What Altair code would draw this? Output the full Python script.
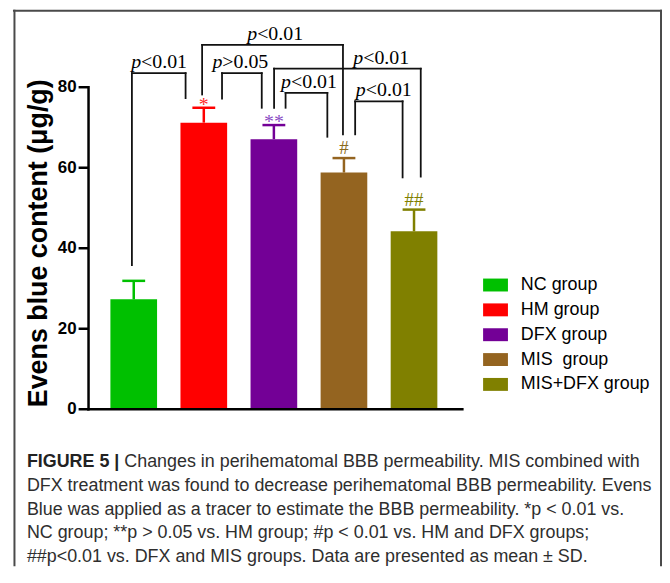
import altair as alt
import pandas as pd

# ---------------- data ----------------
groups = ["NC group", "HM group", "DFX group", "MIS\u00a0 group", "MIS+DFX group"]
means = [27.3, 71.2, 67.1, 58.8, 44.2]
sds = [4.6, 3.7, 3.5, 3.6, 5.4]
bar_colors = ["#00c000", "#ff0000", "#730096", "#946420", "#808000"]
sig_marks = ["", "*", "**", "#", "##"]
sig_colors = ["#00c000", "#ff2a2a", "#8a4cc4", "#8b6a1c", "#808000"]

y_ticks = [0, 20, 40, 60, 80]
y_title = "Evens blue content (\u03bcg/g)"

# significance brackets (group-index units / data units)
br_left = [-0.026, 0.976, 1.26, 2.003, 2.167, 3.16]
br_right = [0.74, 2.986, 1.827, 4.096, 2.763, 3.837]
br_top = [83.5, 90.5, 83.5, 84.6, 78.6, 76.5]
br_left_end = [35.8, 78.2, 77.2, 74.9, 74.9, 68.3]
br_right_end = [77.3, 68.3, 74.9, 57.8, 67.7, 57.6]
br_text = ["<0.01", "<0.01", ">0.05", "<0.01", "<0.01", "<0.01"]
br_text_x = [0.36, 2.017, 1.52, 3.53, 2.5, 3.567]

caption_bold = "FIGURE 5 |"
caption_first = "Changes in perihematomal BBB permeability. MIS combined with"
caption_lines = [
    "DFX treatment was found to decrease perihematomal BBB permeability. Evens",
    "Blue was applied as a tracer to estimate the BBB permeability. *p < 0.01 vs.",
    "NC group; **p > 0.05 vs. HM group; #p < 0.01 vs. HM and DFX groups;",
    "##p<0.01 vs. DFX and MIS groups. Data are presented as mean \u00b1 SD.",
]

# ---------------- layout constants ----------------
W, H = 653, 560
HALF_BAR = 0.333
HALF_CAP = 0.163
AXIS_X = -0.645
AXIS_X_END = 4.69
PX_X = 70.5
PX_Y = 4.05
TICK_LEN = 10 / PX_X
LABEL_GAP = 12 / PX_X
X0 = -121.5 / PX_X
X1 = (W - 121.5) / PX_X
Y1 = 402 / PX_Y
Y0 = -(H - 402) / PX_Y

xs = alt.Scale(domain=[X0, X1], nice=False, zero=False)
ys = alt.Scale(domain=[Y0, Y1], nice=False, zero=False)

n = len(groups)
df = pd.DataFrame({
    "group": groups, "mean": means, "sd": sds, "i": list(range(n)),
    "sig": sig_marks, "sig_color": sig_colors, "bar_color": bar_colors,
})
df["left"] = df["i"] - HALF_BAR
df["right"] = df["i"] + HALF_BAR
df["zero"] = 0.0
df["top"] = df["mean"] + df["sd"]
df["cap_l"] = df["i"] - HALF_CAP
df["cap_r"] = df["i"] + HALF_CAP

bars = alt.Chart(df).mark_rect().encode(
    x=alt.X("left:Q", scale=xs, axis=None),
    x2="right:Q",
    y=alt.Y("mean:Q", scale=ys, axis=None),
    y2="zero:Q",
    color=alt.Color(
        "group:N", sort=groups,
        scale=alt.Scale(domain=groups, range=bar_colors),
        legend=alt.Legend(
            title=None, orient="none", legendX=473, legendY=264.5,
            symbolType="M-1,-0.52H1V0.52H-1Z", symbolSize=625,
            symbolStrokeWidth=0, symbolOpacity=1,
            labelFont="Liberation Sans", labelFontSize=18, labelColor="black",
            labelOffset=13, rowPadding=3, padding=0,
        ),
    ),
)

stems = alt.Chart(df).mark_rule(strokeWidth=2.5).encode(
    x=alt.X("i:Q", scale=xs, axis=None),
    y=alt.Y("mean:Q", scale=ys, axis=None),
    y2="top:Q",
    color=alt.Color("bar_color:N", scale=None),
)
caps = alt.Chart(df).mark_rule(strokeWidth=2.5).encode(
    x=alt.X("cap_l:Q", scale=xs, axis=None),
    x2="cap_r:Q",
    y=alt.Y("top:Q", scale=ys, axis=None),
    color=alt.Color("bar_color:N", scale=None),
)

stars = alt.Chart(df[df["sig"].str.startswith("*")]).mark_text(
    font="Liberation Serif", fontSize=20, baseline="alphabetic", align="center", dy=3
).encode(
    x=alt.X("i:Q", scale=xs, axis=None),
    y=alt.Y("top:Q", scale=ys, axis=None),
    text="sig:N",
    color=alt.Color("sig_color:N", scale=None),
)
hashes = alt.Chart(df[df["sig"].str.startswith("#")]).mark_text(
    font="Liberation Serif", fontSize=19, baseline="alphabetic", align="center", dy=-4
).encode(
    x=alt.X("i:Q", scale=xs, axis=None),
    y=alt.Y("top:Q", scale=ys, axis=None),
    text="sig:N",
    color=alt.Color("sig_color:N", scale=None),
)

# bracket segments
segs = []
for l, r, t, le, re_ in zip(br_left, br_right, br_top, br_left_end, br_right_end):
    segs.append({"x": l, "x2": l, "y": le, "y2": t})
    segs.append({"x": l, "x2": r, "y": t, "y2": t})
    segs.append({"x": r, "x2": r, "y": t, "y2": re_})
seg_df = pd.DataFrame(segs)
brackets = alt.Chart(seg_df).mark_rule(strokeWidth=1.8, color="#111111", strokeCap="square").encode(
    x=alt.X("x:Q", scale=xs, axis=None), x2="x2:Q",
    y=alt.Y("y:Q", scale=ys, axis=None), y2="y2:Q",
)

lab_df = pd.DataFrame({"x": br_text_x, "y": br_top, "p": ["p"] * len(br_text), "rest": br_text})
lab_p = alt.Chart(lab_df).mark_text(
    font="Liberation Serif", fontSize=20, fontStyle="italic", align="right",
    baseline="alphabetic", dx=-18, dy=-5, color="black",
).encode(x=alt.X("x:Q", scale=xs, axis=None), y=alt.Y("y:Q", scale=ys, axis=None), text="p:N")
lab_rest = alt.Chart(lab_df).mark_text(
    font="Liberation Serif", fontSize=20, align="left",
    baseline="alphabetic", dx=-18, dy=-5, color="black",
).encode(x=alt.X("x:Q", scale=xs, axis=None), y=alt.Y("y:Q", scale=ys, axis=None), text="rest:N")

# axis lines
axes_df = pd.DataFrame({
    "x": [AXIS_X, AXIS_X], "x2": [AXIS_X, AXIS_X_END],
    "y": [0.0, 0.0], "y2": [80.0, 0.0],
})
axis_lines = alt.Chart(axes_df).mark_rule(strokeWidth=2.5, color="black", strokeCap="square").encode(
    x=alt.X("x:Q", scale=xs, axis=None), x2="x2:Q",
    y=alt.Y("y:Q", scale=ys, axis=None), y2="y2:Q",
)

tick_df = pd.DataFrame({"v": y_ticks})
tick_df["x"] = AXIS_X - TICK_LEN
tick_df["x2"] = AXIS_X
tick_df["lx"] = AXIS_X - LABEL_GAP
tick_df["label"] = [str(t) for t in y_ticks]
tick_marks = alt.Chart(tick_df).mark_rule(strokeWidth=2.5, color="black").encode(
    x=alt.X("x:Q", scale=xs, axis=None), x2="x2:Q",
    y=alt.Y("v:Q", scale=ys, axis=None),
)
tick_labels = alt.Chart(tick_df).mark_text(
    font="Liberation Sans", fontSize=17, fontWeight="bold", align="right",
    baseline="middle", color="black",
).encode(
    x=alt.X("lx:Q", scale=xs, axis=None),
    y=alt.Y("v:Q", scale=ys, axis=None),
    text="label:N",
)

one = pd.DataFrame({"k": [0]})
y_title_mark = alt.Chart(one).mark_text(
    text=y_title, font="Liberation Sans", fontSize=27, fontWeight="bold",
    angle=270, align="center", baseline="middle", color="black",
).encode(x=alt.value(26), y=alt.value(235))

frame_color = "#4a4a4a"
frame_l = alt.Chart(one).mark_rule(strokeWidth=2, color=frame_color).encode(
    x=alt.value(1.5), y=alt.value(0), y2=alt.value(H))
frame_r = alt.Chart(one).mark_rule(strokeWidth=2, color=frame_color).encode(
    x=alt.value(W - 1), y=alt.value(0), y2=alt.value(H))
frame_t = alt.Chart(one).mark_rule(strokeWidth=2, color=frame_color).encode(
    x=alt.value(0), x2=alt.value(W), y=alt.value(1))

cap_font = "Liberation Sans"
cap_color = "#2e2e2e"
cap_b = alt.Chart(one).mark_text(
    text=caption_bold, font=cap_font, fontSize=18, fontWeight="bold",
    align="left", baseline="alphabetic", color="#222222",
).encode(x=alt.value(14), y=alt.value(460))
cap_1 = alt.Chart(one).mark_text(
    text=caption_first, font=cap_font, fontSize=18,
    align="left", baseline="alphabetic", color=cap_color,
).encode(x=alt.value(112), y=alt.value(460))
cap_rest = alt.Chart(one).mark_text(
    text=caption_lines, font=cap_font, fontSize=18, lineHeight=24,
    align="left", baseline="alphabetic", color=cap_color,
).encode(x=alt.value(14), y=alt.value(484))

chart = alt.layer(
    bars, stems, caps, stars, hashes, brackets, lab_p, lab_rest, axis_lines,
    tick_marks, tick_labels, y_title_mark,
    frame_l, frame_r, frame_t, cap_b, cap_1, cap_rest,
).properties(
    width=W, height=H,
    padding={"left": 5, "top": 0, "right": 0, "bottom": 0},
    autosize=alt.AutoSizeParams(type="none"),
).configure_view(stroke=None)

chart.save("out.html", embed_options={"renderer": "svg", "actions": False})
